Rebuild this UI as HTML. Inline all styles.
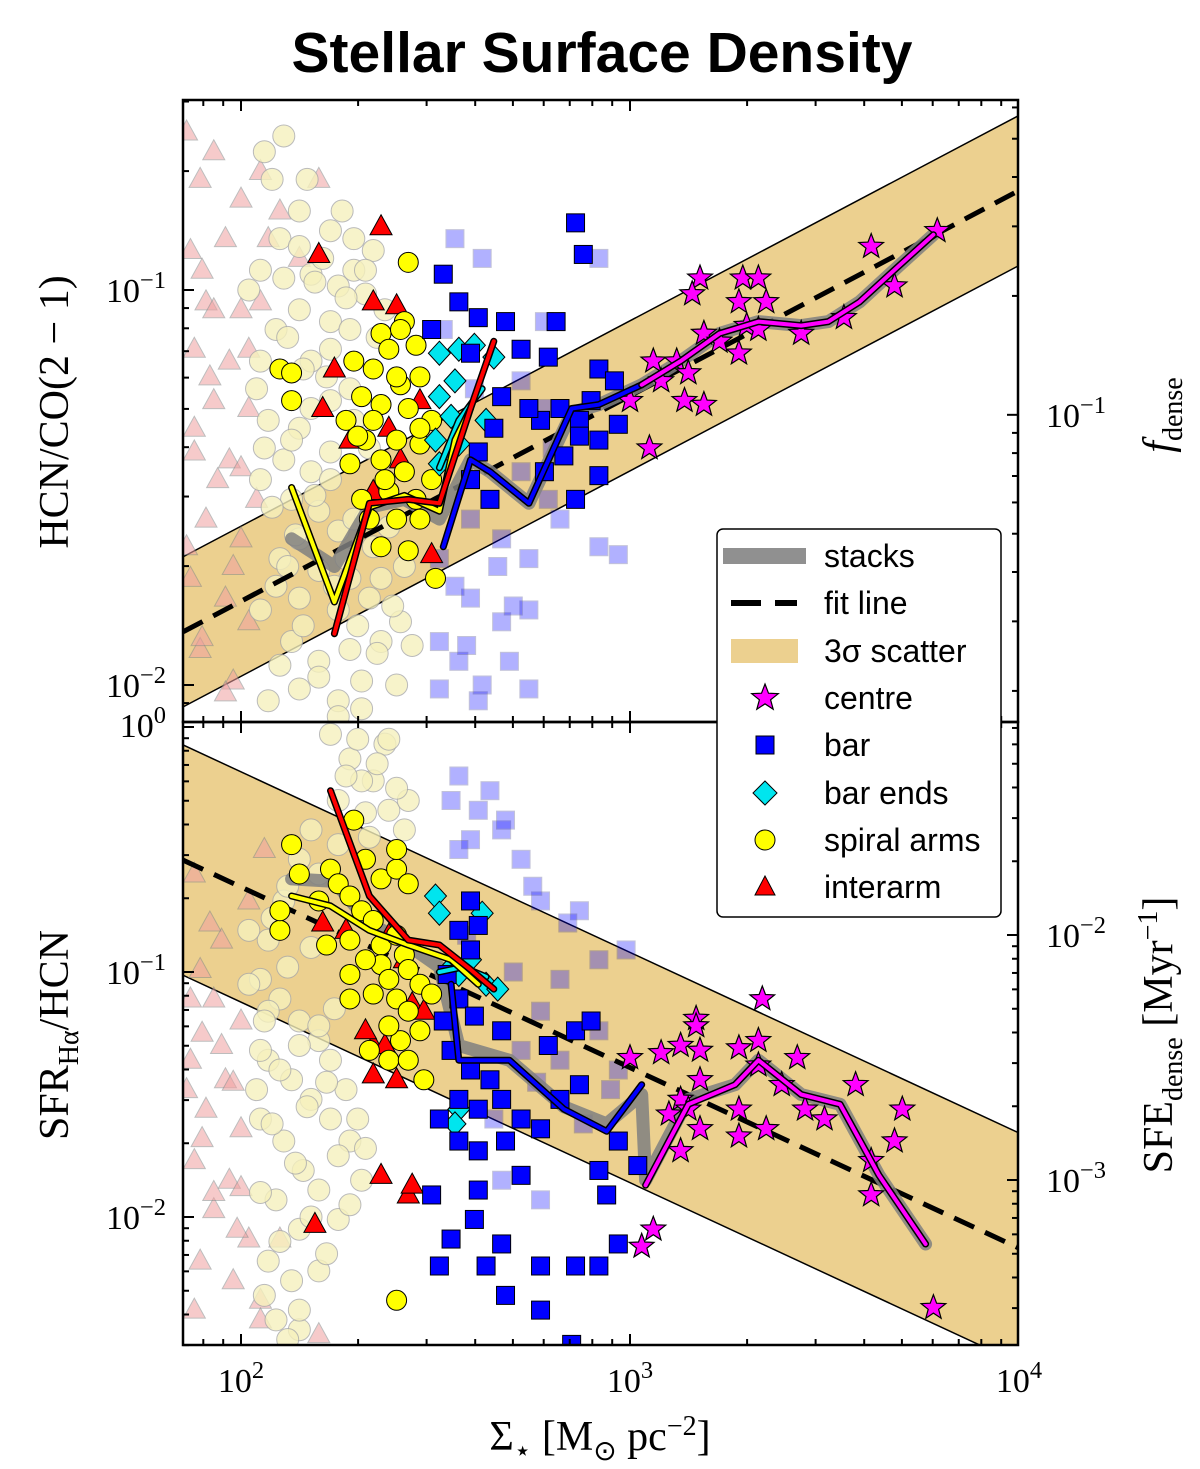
<!DOCTYPE html>
<html><head><meta charset="utf-8">
<style>
html,body{margin:0;padding:0;background:#fff;}
svg text{font-family:"Liberation Serif",serif;}
</style></head>
<body>
<svg id="chart" width="1200" height="1464" viewBox="0 0 1200 1464" xmlns="http://www.w3.org/2000/svg">
<defs>
<clipPath id="clipTop"><rect x="183" y="100" width="835" height="622"/></clipPath>
<clipPath id="clipBot"><rect x="183" y="722" width="835" height="623"/></clipPath>
</defs>
<text x="602" y="72" text-anchor="middle" font-size="57" font-weight="bold" style="font-family:'Liberation Sans',sans-serif">Stellar Surface Density</text>
<g id="topP" clip-path="url(#clipTop)"></g>
<g id="botP" clip-path="url(#clipBot)"></g>
<g id="axes"></g>
<g id="legend"></g>
</svg>
<script>
// ---- data (log10 values) ----
const xTickExps=[2,3,4];
const topFit=[-1.788,0.52,0.19];
const botFit=[-0.653,-0.737,0.47];
const topStarsX=[3.79,3.62,3.18,3.16,3.29,3.33,3.28,3.35,3.30,3.33,3.19,3.44,3.55,3.68,3.06,3.12,3.15,3.00,3.08,3.14,3.19,3.05,3.28,3.23];
const topStarsY=[-0.85,-0.89,-0.97,-1.01,-0.97,-0.97,-1.03,-1.03,-1.09,-1.10,-1.11,-1.11,-1.07,-0.99,-1.18,-1.18,-1.21,-1.28,-1.23,-1.28,-1.29,-1.40,-1.16,-1.13];
const topBarX=[2.86,2.88,2.52,2.49,2.56,2.61,2.68,2.81,2.79,2.59,2.72,2.92,2.96,2.90,2.82,2.77,2.87,2.97,2.92,2.83,2.78,2.74,2.67,2.65,2.61,2.59,2.64,2.86,2.92,2.87];
const topBarY=[-0.83,-0.91,-0.96,-1.10,-1.03,-1.07,-1.08,-1.08,-1.17,-1.16,-1.15,-1.20,-1.23,-1.28,-1.30,-1.33,-1.33,-1.34,-1.38,-1.42,-1.46,-1.30,-1.27,-1.35,-1.41,-1.48,-1.53,-1.53,-1.47,-1.37];
const topEndX=[2.51,2.56,2.60,2.65,2.55,2.51,2.54,2.50,2.56,2.51,2.63];
const topEndY=[-1.16,-1.15,-1.14,-1.17,-1.23,-1.27,-1.32,-1.38,-1.39,-1.44,-1.33];
const topArmX=[2.43,2.10,2.13,2.13,2.29,2.36,2.42,2.38,2.34,2.41,2.46,2.31,2.36,2.43,2.49,2.27,2.32,2.40,2.46,2.28,2.36,2.42,2.49,2.31,2.38,2.45,2.33,2.40,2.46,2.36,2.43,2.50,2.41,2.45,2.40,2.34,2.46,2.30,2.37];
const topArmY=[-0.93,-1.20,-1.21,-1.28,-1.18,-1.11,-1.08,-1.15,-1.20,-1.24,-1.22,-1.27,-1.29,-1.30,-1.33,-1.33,-1.38,-1.38,-1.39,-1.44,-1.43,-1.46,-1.48,-1.53,-1.51,-1.53,-1.58,-1.58,-1.58,-1.65,-1.66,-1.73,-1.10,-1.14,-1.22,-1.33,-1.35,-1.37,-1.48];
const topInterX=[2.20,2.36,2.34,2.40,2.24,2.21,2.28,2.38,2.41,2.49,2.34,2.46];
const topInterY=[-0.91,-0.84,-1.03,-1.04,-1.20,-1.30,-1.38,-1.35,-1.43,-1.67,-1.51,-1.28];
const topFaintArmX=[2.11,2.06,2.08,2.15,2.10,2.15,2.23,2.29,2.34,2.05,2.11,2.18,2.25,2.32,2.15,2.23,2.28,2.09,2.05,2.18,2.23,2.15,2.07,2.11,2.18,2.23,2.05,2.13,2.20,2.25,2.15,2.10,2.20,2.28,2.15,2.25,2.33,2.13,2.20,2.28,2.15,2.25,2.07,2.36,2.05,2.29,2.23,2.29,2.32,2.36,2.41,2.31,
 2.02,2.04,2.06,2.08,2.09,2.10,2.12,2.13,2.14,2.16,2.17,2.18,2.19,2.20,2.21,2.22,2.23,2.24,2.25,2.26,2.27,2.28,2.29,2.30,2.31,2.32,2.33,2.34,2.35,2.37,2.38,2.39,2.40,2.42,2.44,2.12,2.16,2.19,2.27,2.35];
const topFaintArmY=[-0.61,-0.65,-0.72,-0.80,-0.87,-0.89,-0.85,-0.87,-0.90,-0.95,-0.97,-0.96,-0.99,-1.01,-1.05,-1.08,-1.10,-1.10,-1.18,-1.18,-1.28,-1.35,-1.33,-1.43,-1.46,-1.41,-1.48,-1.53,-1.56,-1.61,-1.63,-1.68,-1.71,-1.73,-1.78,-1.81,-1.78,-1.89,-1.94,-1.91,-2.01,-2.04,-2.04,-1.89,-1.81,-0.95,-1.15,-1.33,-1.58,-1.73,-1.84,-1.99,
 -1.00,-1.25,-1.40,-1.55,-1.75,-1.95,-1.12,-1.38,-1.62,-1.85,-0.72,-1.30,-1.52,-1.98,-0.92,-1.22,-1.48,-1.75,-2.08,-0.80,-1.02,-1.25,-1.58,-1.85,-2.06,-0.95,-1.40,-1.65,-1.92,-1.05,-1.60,-1.80,-2.00,-1.70,-1.90,-1.70,-1.20,-0.98,-1.68,-1.12];
const topFaintInterX=[1.895,1.93,2.0,1.87,1.96,1.91,2.0,2.05,1.88,1.97,1.93,2.02,1.88,1.97,2.04,1.91,2.0,1.87,1.96,2.02,1.895,1.98,2.20,2.15,2.07,
 1.86,1.90,1.92,1.94,1.86,1.98,2.02,1.90,1.96,2.05,2.10,1.88,2.0,1.93];
const topFaintInterY=[-0.72,-0.65,-0.77,-0.90,-0.87,-1.03,-1.05,-1.03,-1.15,-1.18,-1.28,-1.30,-1.41,-1.43,-1.53,-1.58,-1.63,-1.73,-1.78,-1.84,-1.91,-1.99,-0.72,-0.92,-0.87,
 -0.60,-0.95,-1.22,-1.48,-1.65,-1.70,-1.15,-1.88,-2.02,-0.70,-0.80,-1.35,-1.45,-1.05];
const topFaintBarX=[2.55,2.78,2.92,2.72,2.78,2.59,2.51,2.67,2.74,2.82,2.92,2.97,2.59,2.67,2.51,2.74,2.56,2.69,2.51,2.61,2.74,2.79,2.72,
 2.52,2.60,2.66,2.58,2.70,2.62,2.55,2.80,2.62];
const topFaintBarY=[-0.87,-1.08,-0.92,-1.23,-1.30,-1.58,-1.68,-1.63,-1.68,-1.58,-1.65,-1.67,-1.78,-1.84,-1.89,-1.81,-1.94,-1.94,-2.01,-2.04,-2.01,-1.53,-1.46,
 -1.10,-1.25,-1.70,-1.90,-1.80,-2.00,-1.75,-1.40,-0.92];
const topStackX=[2.13,2.24,2.33,2.42,2.51,2.59,2.64,2.74,2.85,2.92,3.03,3.13,3.23,3.33,3.44,3.51,3.59,3.69,3.78];
const topStackY=[-1.63,-1.70,-1.55,-1.53,-1.58,-1.43,-1.46,-1.54,-1.31,-1.29,-1.24,-1.18,-1.11,-1.08,-1.09,-1.08,-1.03,-0.94,-0.86];
const topCentreLX=[3.03,3.13,3.23,3.33,3.44,3.51,3.59,3.69,3.78];
const topCentreLY=[-1.24,-1.18,-1.11,-1.08,-1.09,-1.08,-1.03,-0.94,-0.86];
const topBarLX=[2.52,2.59,2.64,2.74,2.85,2.92,3.03];
const topBarLY=[-1.65,-1.43,-1.46,-1.54,-1.30,-1.29,-1.24];
const topArmLX=[2.13,2.24,2.33,2.42,2.51,2.55,2.59];
const topArmLY=[-1.50,-1.79,-1.55,-1.52,-1.56,-1.38,-1.30];
const topInterLX=[2.24,2.33,2.43,2.51,2.59,2.65];
const topInterLY=[-1.87,-1.54,-1.53,-1.54,-1.30,-1.13];
const topEndLX=[2.51,2.56,2.62];
const topEndLY=[-1.45,-1.33,-1.25];

const botStarsX=[3.34,3.17,3.17,3.00,3.08,3.13,3.18,3.28,3.33,3.43,3.58,3.18,3.13,3.10,3.15,3.18,3.13,3.28,3.35,3.28,3.45,3.50,3.62,3.70,3.68,3.62,3.03,3.06,3.78,3.33,3.39];
const botStarsY=[-1.11,-1.19,-1.22,-1.35,-1.33,-1.30,-1.32,-1.31,-1.28,-1.35,-1.46,-1.44,-1.52,-1.58,-1.56,-1.64,-1.73,-1.56,-1.64,-1.67,-1.56,-1.60,-1.77,-1.56,-1.69,-1.91,-2.12,-2.05,-2.37,-1.38,-1.46];
const botBarX=[2.59,2.61,2.56,2.53,2.59,2.56,2.60,2.67,2.52,2.54,2.59,2.64,2.56,2.61,2.67,2.72,2.51,2.56,2.61,2.68,2.72,2.77,2.82,2.86,2.90,2.79,2.92,2.94,2.86,2.92,2.97,3.02,2.97,2.77,2.67,2.60,2.54,2.51,2.63,2.68,2.77,2.49,2.85,2.61,2.87];
const botBarY=[-0.71,-0.81,-0.83,-1.01,-0.91,-1.11,-1.18,-1.24,-1.20,-1.32,-1.40,-1.44,-1.52,-1.56,-1.52,-1.60,-1.60,-1.69,-1.73,-1.69,-1.83,-1.64,-1.52,-1.24,-1.20,-1.30,-1.81,-1.91,-2.20,-2.20,-2.11,-1.79,-1.69,-2.20,-2.11,-2.01,-2.09,-2.20,-2.20,-2.32,-2.38,-1.91,-2.52,-1.89,-1.46];
const botEndX=[2.50,2.51,2.62,2.53,2.56,2.63,2.66,2.59,2.56,2.55];
const botEndY=[-0.69,-0.76,-0.76,-1.00,-1.01,-1.05,-1.07,-0.95,-1.56,-1.62];
const botArmX=[2.10,2.13,2.15,2.20,2.23,2.25,2.28,2.31,2.34,2.36,2.40,2.42,2.43,2.46,2.49,2.36,2.32,2.28,2.38,2.40,2.43,2.46,2.41,2.38,2.33,2.43,2.47,2.28,2.34,2.38,2.36,2.40,2.43,2.32,2.29,2.40,2.40,2.10,2.22,2.28];
const botArmY=[-0.83,-0.48,-0.60,-0.71,-0.58,-0.64,-0.69,-0.75,-0.79,-0.89,-0.85,-0.93,-0.99,-1.05,-1.09,-0.97,-0.95,-1.01,-1.03,-1.11,-1.16,-1.24,-1.28,-1.36,-1.32,-1.36,-1.44,-1.11,-1.09,-1.22,-0.62,-0.58,-0.64,-0.54,-0.38,-0.50,-2.34,-0.75,-0.89,-0.87];
const botInterX=[2.21,2.27,2.38,2.42,2.44,2.47,2.34,2.34,2.40,2.36,2.43,2.44,2.19,2.37,2.32];
const botInterY=[-0.80,-0.83,-0.85,-0.95,-1.13,-1.16,-1.30,-1.42,-1.44,-1.83,-1.91,-1.87,-2.03,-1.30,-1.24];
const botFaintArmX=[2.23,2.28,2.34,2.25,2.18,2.15,2.11,2.07,2.05,2.10,2.15,2.20,2.07,2.13,2.18,2.05,2.11,2.16,2.09,2.15,2.07,2.13,2.09,2.15,2.23,2.27,2.23,2.28,2.20,2.25,2.20,2.31,2.37,2.38,2.43,2.42,2.31,2.05,2.02,2.07,
 2.30,2.27,2.32,2.25,2.20,2.12,2.08,2.18,2.12,2.06,2.15,2.10,2.22,2.17,2.08,2.14,2.25,2.05,2.18,2.10,2.22,2.06,2.15,2.12,2.28,2.30,2.35,2.38,2.33,2.40,2.02,2.04,2.24,2.20,2.32];
const botFaintArmY=[-0.03,-0.13,-0.22,-0.30,-0.42,-0.54,-0.71,-0.87,-1.03,-1.11,-1.20,-1.28,-1.36,-1.44,-1.52,-1.60,-1.69,-1.81,-1.93,-2.05,-2.18,-2.26,-2.42,-2.46,-1.36,-1.48,-1.60,-1.69,-1.89,-2.01,-2.22,-0.22,-0.07,-0.34,-0.30,-0.42,-1.85,-1.32,-0.83,-1.16,
 -0.05,-0.20,-0.35,-0.48,-0.60,-0.65,-0.78,-0.90,-0.98,-1.20,-1.30,-1.40,-1.45,-1.55,-1.62,-1.78,-1.75,-1.90,-2.00,-2.10,-2.15,-2.32,-2.38,-2.50,-1.95,-1.60,-0.15,-0.05,-0.45,-0.25,-1.05,-1.48,-1.15,-1.22,-1.72];
const botFaintInterX=[1.895,1.93,2.0,1.87,1.96,1.91,2.0,1.88,1.97,1.93,2.02,1.895,1.98,2.05,2.20,2.02,1.95,1.87,2.10,2.06,
 1.88,1.92,1.95,1.86,1.90,1.98,1.93,1.99,1.88,2.05,2.0,1.90];
const botFaintInterY=[-0.99,-1.11,-1.20,-1.36,-1.44,-1.56,-1.64,-1.77,-1.85,-1.97,-2.09,-2.18,-2.26,-2.34,-2.48,-0.71,-0.87,-1.11,-2.09,-0.50,
 -0.60,-0.80,-1.30,-1.48,-1.68,-1.45,-1.90,-2.05,-2.38,-2.42,-1.88,-1.25];
const botFaintBarX=[2.56,2.64,2.61,2.67,2.59,2.72,2.77,2.87,2.99,2.92,2.82,2.77,2.72,2.82,2.92,2.97,2.61,2.77,2.67,2.95,2.54,
 2.56,2.68,2.75,2.58,2.70,2.84,2.65,2.88,2.76];
const botFaintBarY=[-0.20,-0.26,-0.34,-0.42,-0.46,-0.54,-0.71,-0.75,-0.91,-0.95,-1.03,-1.16,-1.32,-1.36,-1.24,-1.40,-1.73,-1.93,-1.85,-1.48,-0.30,
 -0.50,-0.38,-0.65,-0.85,-1.00,-0.80,-1.60,-1.62,-1.45];
const botStackX=[2.13,2.24,2.33,2.42,2.51,2.56,2.69,2.83,2.94,3.03,3.04,3.15,3.27,3.33,3.44,3.54,3.64,3.76];
const botStackY=[-0.62,-0.63,-0.80,-0.88,-0.98,-1.30,-1.36,-1.55,-1.62,-1.50,-1.85,-1.52,-1.46,-1.36,-1.50,-1.54,-1.83,-2.11];
const botCentreLX=[3.04,3.15,3.27,3.33,3.44,3.54,3.64,3.76];
const botCentreLY=[-1.87,-1.54,-1.46,-1.36,-1.50,-1.54,-1.83,-2.11];
const botBarLX=[2.54,2.56,2.69,2.83,2.94,3.03];
const botBarLY=[-1.05,-1.36,-1.36,-1.56,-1.65,-1.46];
const botArmLX=[2.13,2.23,2.33,2.43,2.54,2.61];
const botArmLY=[-0.69,-0.73,-0.83,-0.89,-0.95,-1.05];
const botInterLX=[2.23,2.33,2.43,2.51,2.59,2.65];
const botInterLY=[-0.26,-0.69,-0.87,-0.89,-0.99,-1.07];
const botEndLX=[2.51,2.57,2.63];
const botEndLY=[-1.00,-0.98,-1.02];

// ---- scales ----
const X0=183,X1=1018;
const sx=l=>241+(l-2)*389;
const syT=l=>290-(l+1)*395;
const syB=l=>972-(l+1)*245;
const NS="http://www.w3.org/2000/svg";
function mk(tag,attrs,parent){const e=document.createElementNS(NS,tag);for(const k in attrs)e.setAttribute(k,attrs[k]);parent.appendChild(e);return e;}
const topP=document.getElementById('topP'),botP=document.getElementById('botP'),axes=document.getElementById('axes'),legend=document.getElementById('legend');

function band(g,sy,fit,name){
  const lx0=Math.log10(71),lx1=4;
  const f=l=>fit[0]+fit[1]*(l-2);
  const p=[[sx(lx0),sy(f(lx0)+fit[2])],[sx(lx1),sy(f(lx1)+fit[2])],[sx(lx1),sy(f(lx1)-fit[2])],[sx(lx0),sy(f(lx0)-fit[2])]];
  const b=mk('polygon',{points:p.map(q=>q.join(',')).join(' '),fill:'#ecd08f',stroke:'none'},g);
  
  
  const u=mk('line',{x1:p[0][0],y1:p[0][1],x2:p[1][0],y2:p[1][1],stroke:'#000','stroke-width':1.5},g);
  
  
  const lo=mk('line',{x1:p[3][0],y1:p[3][1],x2:p[2][0],y2:p[2][1],stroke:'#000','stroke-width':1.5},g);
  
  
}
function fitLine(g,sy,fit,name){
  const lx0=Math.log10(71),lx1=4;const f=l=>fit[0]+fit[1]*(l-2);
  const l=mk('line',{x1:sx(lx0),y1:sy(f(lx0)),x2:sx(lx1),y2:sy(f(lx1)),stroke:'#000','stroke-width':5,'stroke-dasharray':'22,12'},g);
  
  
}
function starPts(cx,cy,R){const r=R*0.42;let s=[];for(let i=0;i<10;i++){const a=-Math.PI/2+i*Math.PI/5;const rr=i%2?r:R;s.push((cx+rr*Math.cos(a)).toFixed(1)+','+(cy+rr*Math.sin(a)).toFixed(1));}return s.join(' ');}
function marker(g,type,x,y,faint,name){
  let e;
  const op=faint?0.3:1;
  if(type==='star'){e=mk('polygon',{points:starPts(x,y,13),fill:'#ff00ff',stroke:'#000','stroke-width':1.2},g);}
  else if(type==='square'){e=mk('rect',{x:x-9,y:y-9,width:18,height:18,fill:'#0000ff',stroke:faint?'#3a3a80':'#000','stroke-width':1,opacity:op},g);}
  else if(type==='diamond'){e=mk('polygon',{points:`${x},${y-12} ${x+11},${y} ${x},${y+12} ${x-11},${y}`,fill:'#00e5ee',stroke:'#000','stroke-width':1,opacity:op},g);}
  else if(type==='circle'){e=mk('circle',{cx:x,cy:y,r:faint?11:10,fill:faint?'#f6f1bd':'#ffff00',stroke:faint?'#aaa':'#000','stroke-width':1,opacity:faint?0.8:1},g);}
  else {e=mk('polygon',{points:`${x},${y-12} ${x+11},${y+8} ${x-11},${y+8}`,fill:faint?'#f0a0a0':'#ff0000',stroke:faint?'#888':'#000','stroke-width':1,opacity:faint?0.55:1},g);}
  
  
}
function pts(g,sy,xs,ys,type,faint,name){for(let i=0;i<xs.length;i++)marker(g,type,sx(xs[i]),sy(ys[i]),faint,name);}
function poly(g,sy,xs,ys,color,w,outline,name){
  const d=xs.map((v,i)=>sx(v).toFixed(1)+','+sy(ys[i]).toFixed(1)).join(' ');
  if(outline){const o=mk('polyline',{points:d,fill:'none',stroke:'#000','stroke-width':w+3,'stroke-linejoin':'round','stroke-linecap':'round'},g);
    
    }
  const l=mk('polyline',{points:d,fill:'none',stroke:color,'stroke-width':w,'stroke-linejoin':'round','stroke-linecap':'round',opacity:outline?1:0.85},g);
  
  
}
function panel(g,sy,P,name){
  band(g,sy,P.fit,name);
  pts(g,sy,P.fIX,P.fIY,'tri',true,'faint-interarm-point');
  pts(g,sy,P.fAX,P.fAY,'circle',true,'faint-spiral-arm-point');
  pts(g,sy,P.fBX,P.fBY,'square',true,'faint-bar-point');
  fitLine(g,sy,P.fit,name);
  poly(g,sy,P.sX,P.sY,'#808080',13,false,name+'-stacks-line');
  pts(g,sy,P.iX,P.iY,'tri',false,'interarm-point');
  pts(g,sy,P.aX,P.aY,'circle',false,'spiral-arm-point');
  pts(g,sy,P.eX,P.eY,'diamond',false,'bar-end-point');
  pts(g,sy,P.bX,P.bY,'square',false,'bar-point');
  pts(g,sy,P.cX,P.cY,'star',false,'centre-point');
  poly(g,sy,P.lbX,P.lbY,'#0000ff',4,true,name+'-bar-line');
  poly(g,sy,P.leX,P.leY,'#00e5ee',4,true,name+'-bar-ends-line');
  poly(g,sy,P.laX,P.laY,'#ffff00',4,true,name+'-arm-line');
  poly(g,sy,P.liX,P.liY,'#ff0000',4,true,name+'-interarm-line');
  poly(g,sy,P.lcX,P.lcY,'#ff00ff',4,true,name+'-centre-line');
}
panel(topP,syT,{fit:topFit,fIX:topFaintInterX,fIY:topFaintInterY,fAX:topFaintArmX,fAY:topFaintArmY,fBX:topFaintBarX,fBY:topFaintBarY,sX:topStackX,sY:topStackY,iX:topInterX,iY:topInterY,aX:topArmX,aY:topArmY,eX:topEndX,eY:topEndY,bX:topBarX,bY:topBarY,cX:topStarsX,cY:topStarsY,lbX:topBarLX,lbY:topBarLY,leX:topEndLX,leY:topEndLY,laX:topArmLX,laY:topArmLY,liX:topInterLX,liY:topInterLY,lcX:topCentreLX,lcY:topCentreLY},'top');
panel(botP,syB,{fit:botFit,fIX:botFaintInterX,fIY:botFaintInterY,fAX:botFaintArmX,fAY:botFaintArmY,fBX:botFaintBarX,fBY:botFaintBarY,sX:botStackX,sY:botStackY,iX:botInterX,iY:botInterY,aX:botArmX,aY:botArmY,eX:botEndX,eY:botEndY,bX:botBarX,bY:botBarY,cX:botStarsX,cY:botStarsY,lbX:botBarLX,lbY:botBarLY,leX:botEndLX,leY:botEndLY,laX:botArmLX,laY:botArmLY,liX:botInterLX,liY:botInterLY,lcX:botCentreLX,lcY:botCentreLY},'bottom');

// ---- axes ----
function frame(y0,y1,name){const r=mk('rect',{x:X0,y:y0,width:X1-X0,height:y1-y0,fill:'none',stroke:'#000','stroke-width':2.5},axes);
  
  }
frame(100,722,'top-panel');frame(722,1345,'bottom-panel');
function tk(x1,y1,x2,y2){const t=mk('line',{x1,y1,x2,y2,stroke:'#000','stroke-width':2},axes);
  
  }
function lbl(x,y,base,exp,anchor,size){const t=mk('text',{x,y,'text-anchor':anchor,'font-size':size||34},axes);
  
  
  t.textContent=base;const s=mk('tspan',{dy:-14,'font-size':(size||34)*0.72},t);s.textContent=exp;}
for(let e=1;e<=4;e++)for(let m=1;m<10;m++){const l=e+Math.log10(m);const x=sx(l);if(x<X0-0.5||x>X1+0.5)continue;const L=m===1?11:6;
  tk(x,1345,x,1345-L);tk(x,100,x,100+L);tk(x,722-L,x,722+L);}
xTickExps.forEach(e=>lbl(sx(e),1392,'10',e,'middle',34));
function yTicks(sy,lo,hi,y0,y1,side){for(let e=lo;e<=hi;e++)for(let m=1;m<10;m++){const y=sy(e+Math.log10(m));if(y<y0-0.5||y>y1+0.5)continue;const L=m===1?11:6;
  if(side==='L')tk(X0,y,X0+L,y);else tk(X1,y,X1-L,y);}}
yTicks(syT,-3,0,100,722,'L');yTicks(syB,-3,1,722,1345,'L');
lbl(166,302,'10','−1','end');lbl(166,697,'10','−2','end');lbl(166,737,'10','0','end');
lbl(166,984,'10','−1','end');lbl(166,1229,'10','−2','end');
const fOff=0.316, sOff=1.151;
yTicks(l=>syT(l-fOff),-3,0,100,722,'R');yTicks(l=>syB(l+sOff),-4,-1,722,1345,'R');
lbl(1046,427,'10','−1','start');lbl(1046,947,'10','−2','start');lbl(1046,1192,'10','−3','start');
function title(x,y,rot,html,name){const t=mk('text',{x,y,'text-anchor':'middle','font-size':42,transform:rot?`rotate(-90 ${x} ${y})`:''},axes);
  
  
  t.innerHTML=html;}
title(68,412,true,'HCN/CO(2 − 1)','top-y-axis-title');
title(68,1035,true,'SFR<tspan font-size="28" dy="10">Hα</tspan><tspan dy="-10">/HCN</tspan>','bottom-y-axis-title');
title(1172,415,true,'<tspan font-style="italic">f</tspan><tspan font-size="28" dy="10">dense</tspan>','top-right-axis-title');
title(1172,1035,true,'SFE<tspan font-size="28" dy="10">dense</tspan><tspan dy="-10"> [Myr</tspan><tspan font-size="28" dy="-15">−1</tspan><tspan dy="15">]</tspan>','bottom-right-axis-title');
title(600,1450,false,'Σ<tspan font-size="28" dy="10">⋆</tspan><tspan dy="-10"> [M</tspan><tspan font-size="28" dy="10">⊙</tspan><tspan dy="-10"> pc</tspan><tspan font-size="28" dy="-15">−2</tspan><tspan dy="15">]</tspan>','x-axis-title');

// ---- legend ----
const lb=mk('rect',{x:717,y:529,width:284,height:388,rx:6,fill:'#fff',stroke:'#000','stroke-width':1.5},legend);


const legNames=['stacks','fit line','3σ scatter','centre','bar','bar ends','spiral arms','interarm'];
const legY=[556,603,651,698,745,793,840,887];
legNames.forEach((n,i)=>{const y=legY[i];
  const g=mk('g',{},legend);
  
  
  if(i===0)mk('rect',{x:723,y:y-8,width:83,height:16,fill:'#909090'},g);
  else if(i===1){mk('line',{x1:731,y1:y,x2:797,y2:y,stroke:'#000','stroke-width':6,'stroke-dasharray':'30,14'},g);}
  else if(i===2)mk('rect',{x:731,y:y-12,width:67,height:24,fill:'#ecd08f'},g);
  else if(i===3)mk('polygon',{points:starPts(765,y,14),fill:'#ff00ff',stroke:'#000','stroke-width':1.2},g);
  else if(i===4)mk('rect',{x:756,y:y-9,width:18,height:18,fill:'#0000ff',stroke:'#000'},g);
  else if(i===5)mk('polygon',{points:`765,${y-12} 777,${y} 765,${y+12} 753,${y}`,fill:'#00e5ee',stroke:'#000'},g);
  else if(i===6)mk('circle',{cx:765,cy:y,r:10,fill:'#ffff00',stroke:'#000'},g);
  else mk('polygon',{points:`765,${y-11} 775,${y+8} 755,${y+8}`,fill:'#ff0000',stroke:'#000'},g);
  const t=mk('text',{x:824,y:y+11,'font-size':32,style:"font-family:'Liberation Sans',sans-serif"},g);
  t.textContent=n;
});
</script>
</body></html>
